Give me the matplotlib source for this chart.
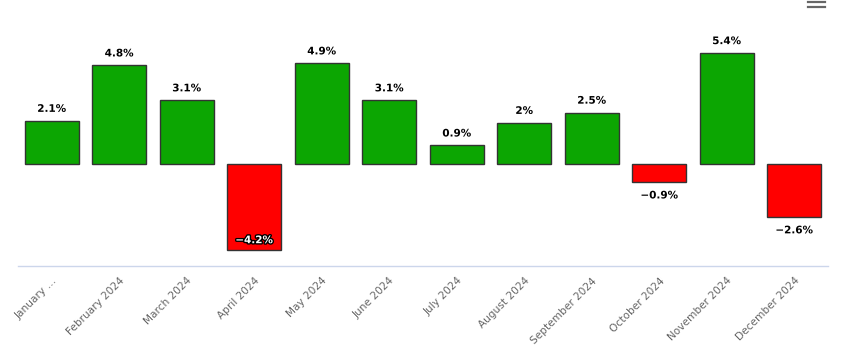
import matplotlib
matplotlib.use("Agg")
import matplotlib.pyplot as plt
import matplotlib.patheffects as pe
from matplotlib.lines import Line2D

# Monthly change, 2024
months = ['January …', 'February 2024', 'March 2024', 'April 2024', 'May 2024',
          'June 2024', 'July 2024', 'August 2024', 'September 2024',
          'October 2024', 'November 2024', 'December 2024']
values = [2.1, 4.8, 3.1, -4.2, 4.9, 3.1, 0.9, 2, 2.5, -0.9, 5.4, -2.6]
labels = ['2.1%', '4.8%', '3.1%', '\u22124.2%', '4.9%', '3.1%', '0.9%', '2%',
          '2.5%', '\u22120.9%', '5.4%', '\u22122.6%']

green = '#0ca602'
red = '#ff0000'

fig = plt.figure(figsize=(8.43, 3.53), dpi=100)
ax = fig.add_axes([18 / 843, 1 - 266 / 353, 810 / 843, 256 / 353])

x = list(range(len(values)))
colors = [green if v >= 0 else red for v in values]
ax.bar(x, values, width=0.8, color=colors, edgecolor='#333333', linewidth=1)

ax.set_xlim(-0.5, len(values) - 0.5)
ax.set_ylim(-4.97, 7.5)

for s in ['top', 'right', 'left']:
    ax.spines[s].set_visible(False)
ax.spines['bottom'].set_color('#ccd6eb')
ax.spines['bottom'].set_linewidth(1)
ax.set_yticks([])
ax.set_xticks(x)
ax.tick_params(axis='x', length=0, pad=7)
ax.set_xticklabels(months, rotation=45, ha='right', va='top',
                   rotation_mode='anchor', color='#666666', fontsize=7.6)

outline = [pe.withStroke(linewidth=2, foreground='white')]
for xi, v, lab in zip(x, values, labels):
    if v >= 0:
        ax.annotate(lab, (xi, v), xytext=(0, 12), textcoords='offset pixels',
                    ha='center', va='center', fontsize=7.5, fontweight='bold',
                    color='black', path_effects=outline)
    elif v < -4:
        # label does not fit below, drawn inside the bar
        ax.annotate(lab, (xi, v), xytext=(0, 10), textcoords='offset pixels',
                    ha='center', va='center', fontsize=7.5, fontweight='bold',
                    color='white',
                    path_effects=[pe.withStroke(linewidth=2, foreground='black')])
    else:
        ax.annotate(lab, (xi, v), xytext=(0, -13), textcoords='offset pixels',
                    ha='center', va='center', fontsize=7.5, fontweight='bold',
                    color='black', path_effects=outline)

# menu icon in the corner
for yy in [2, 7]:
    fig.add_artist(Line2D([808 / 843, 825 / 843], [1 - yy / 353, 1 - yy / 353],
                          color='#666666', linewidth=1.6))

fig.savefig('out.png', dpi=100)
